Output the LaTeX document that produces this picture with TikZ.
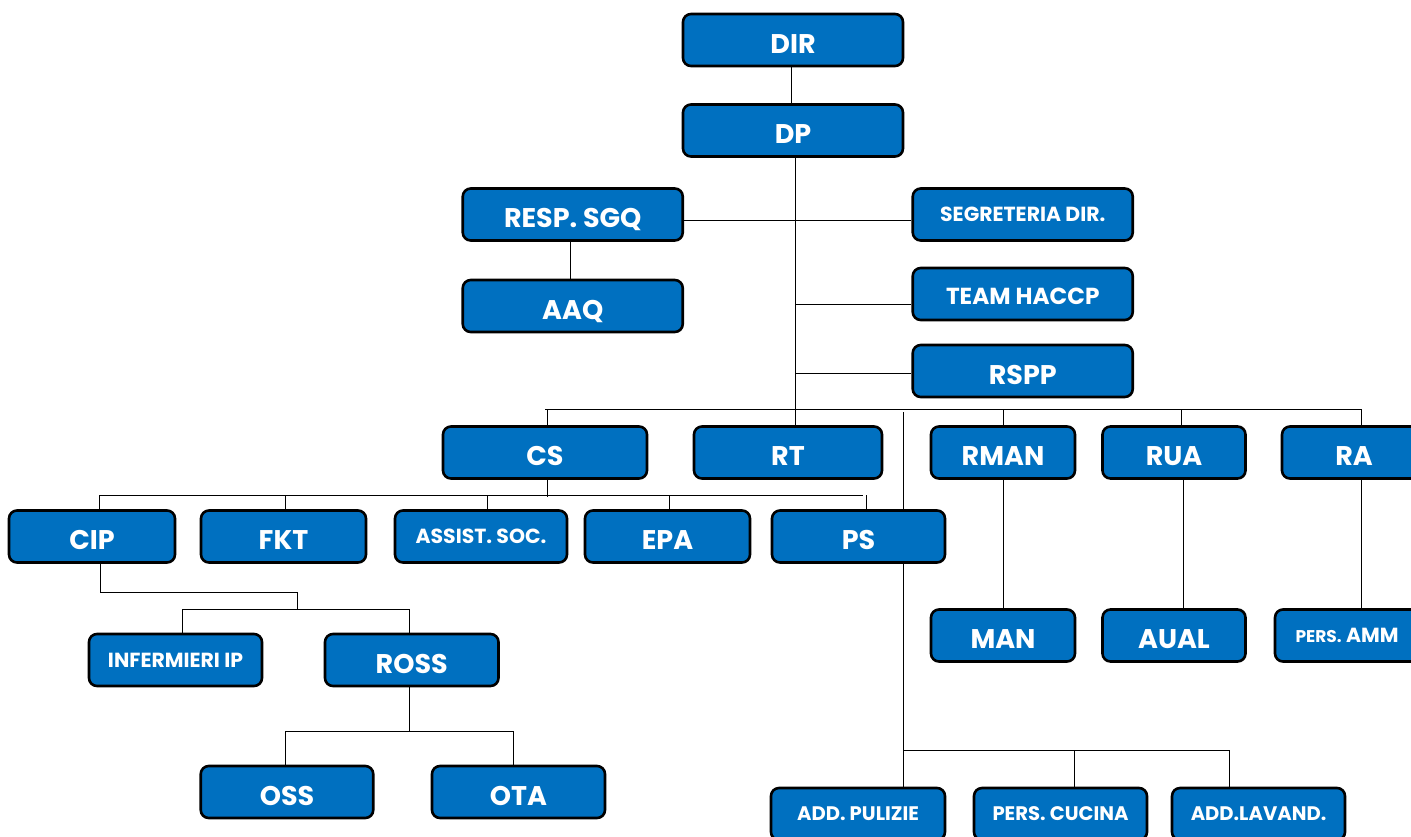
\documentclass[tikz,border=0pt]{standalone}
\usepackage{fontspec}
\setmainfont{Poppins}
\usepackage{xcolor}
\usepackage{tikz}
\usetikzlibrary{backgrounds}
\definecolor{orgblue}{HTML}{0070C0}
\tikzset{unit/.style={draw=black,line width=1.3pt,fill=orgblue,rounded corners=4pt,text=white,font=\bfseries,minimum height=26pt,inner sep=0pt},
  big label/.style={font=\fontsize{13.5}{14}\bfseries,text height=13.2pt,text depth=0pt},
  mid label/.style={font=\fontsize{11.6}{12}\bfseries,text height=10pt,text depth=0pt},
  small label/.style={font=\fontsize{10.2}{11}\bfseries},
  tiny label/.style={font=\fontsize{9.8}{11}\bfseries},
  link/.style={line width=1.4pt}}

\begin{document}
\begin{tikzpicture}[x=0.5pt,y=-0.5pt]
			\useasboundingbox (0,0) rectangle (1411,836);
			\def\w{110pt}
			% top of the chart
			\node[unit,big label,minimum width=\w] (dir) at (793,40) {DIR};
			\node[unit,big label,minimum width=\w] (dp) at (793,130.5) {DP};
			\node[unit,big label,minimum width=\w] (sgq) at (572.75,214.5) {RESP. SGQ};
			\node[unit,small label,minimum width=\w] (segr) at (1022.75,214.5) {SEGRETERIA DIR.};
			\node[unit,big label,minimum width=\w] (aaq) at (572.75,306) {AAQ};
			\node[unit,mid label,minimum width=\w] (haccp) at (1022.75,294) {TEAM HACCP};
			\node[unit,big label,minimum width=\w] (rspp) at (1022.75,371) {RSPP};

			% second row
			\node[unit,big label,minimum width=102pt] (cs) at (545,452.5) {CS};
			\node[unit,big label,minimum width=94pt] (rt) at (788,452.5) {RT};
			\node[unit,big label,minimum width=72pt] (rman) at (1003,452.5) {RMAN};
			\node[unit,big label,minimum width=71.5pt] (rua) at (1174,452.5) {RUA};
			\node[unit,big label,minimum width=72pt] (ra) at (1354,452.5) {RA};

			% third row
			\node[unit,big label,minimum width=83pt] (cip) at (92,536.5) {CIP};
			\node[unit,big label,minimum width=82.5pt] (fkt) at (283.5,536.5) {FKT};
			\node[unit,small label,minimum width=86pt] (assist) at (481,536.5) {ASSIST. SOC.};
			\node[unit,big label,minimum width=82.5pt] (epa) at (667.5,536.5) {EPA};
			\node[unit,big label,minimum width=86.5pt] (ps) at (858.5,536.5) {PS};
			\node[unit,big label,minimum width=72pt] (man) at (1003,635.5) {MAN};
			\node[unit,big label,minimum width=71.5pt] (aual) at (1174,635.5) {AUAL};
			\node[unit,small label,minimum width=72pt] (amm) at (1347,635.5) {{\fontsize{8.5}{9}\bfseries PERS.} AMM};

			% nursing staff
			\node[unit,small label,minimum width=86.5pt] (infer) at (175.5,660) {INFERMIERI IP};
			\node[unit,big label,minimum width=86.75pt] (ross) at (411.75,660) {ROSS};
			\node[unit,big label,minimum width=86.25pt] (oss) at (287,792) {OSS};
			\node[unit,big label,minimum width=86.5pt] (ota) at (518.5,792) {OTA};

			% services
			\node[unit,tiny label,minimum width=87pt] (pul) at (858,814) {ADD. PULIZIE};
			\node[unit,tiny label,minimum width=86.5pt] (cuc) at (1060.5,814) {PERS. CUCINA};
			\node[unit,tiny label,minimum width=86.5pt] (lav) at (1258.5,814) {ADD.LAVAND.};

			\begin{scope}[on background layer,link]
			\coordinate (bar) at (795,409);
			\draw ([xshift=-1pt]dir.south) -- ([xshift=-1pt]dp.north);
			\draw ([xshift=1pt]dp.south) -- (bar) -- ([xshift=3.5pt]rt.north);
			\draw ([yshift=-3pt]sgq.east) -- ([yshift=-3pt]segr.west);
			\draw ([xshift=-1pt]sgq.south) -- ([xshift=-1pt]aaq.north);
			\draw (795,304) -- (haccp.west |- 795,304);
			\draw (795,373) -- (rspp.west |- 795,373);
			\draw (545,409) -- (1361,409);
			\draw (547,409) -- (547,428);
			\draw (1003,409) -- (rman.north);
			\draw (1181,409) -- (1181,428);
			\draw (1361,409) -- (1361,428);
			% branch under CS
			\draw (547,479) -- (547,497);
			\draw (100,495) -- (863,495);
			\foreach \x in {99,285,487,669,866.5}
				\draw (\x,495) -- (\x,515);
			\draw (903,412) -- (903,788);
			% nursing branch
			\draw (100,563) -- (100,592) -- (297,592) -- (297,609);
			\draw (182.5,634) -- (182.5,609) -- (409,609) -- (409,634);
			\draw (409,686) -- (409,731);
			\draw (285,766) -- (285,731) -- (513,731) -- (513,766);
			% right branches
			\draw (rman.south) -- (man.north);
			\draw (1183.4,479) -- (1183.4,609);
			\draw (1361,479) -- (1361,609);
			\draw (903,750) -- (1229,750) -- (1229,788);
			\draw (1074.6,750) -- (1074.6,788);
			\end{scope}
		\end{tikzpicture}
\end{document}
